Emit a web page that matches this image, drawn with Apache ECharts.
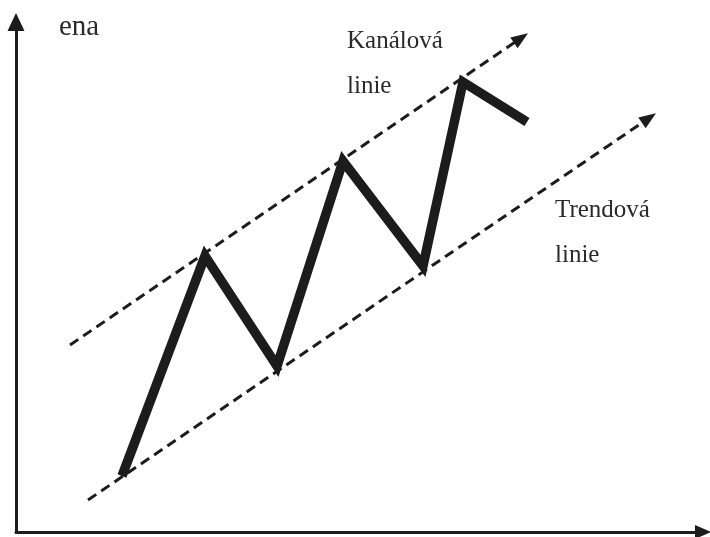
<!DOCTYPE html>
<html><head><meta charset="utf-8">
<script src="https://cdn.jsdelivr.net/npm/echarts@6/dist/echarts.min.js"></script>
<style>html,body{margin:0;padding:0;background:#fff}#c{width:710px;height:537px}</style>
</head><body><div id="c"></div>
<script>
// Price zigzag (x = time, y = price)
const zigX = [106, 189, 261, 327, 407, 447, 511];
const zigY = [56, 276, 166, 371, 266, 450, 410];
// Channel line (upper, dashed) start/end
const channelLine = [[54, 187], [505, 494]];
// Trend line (lower, dashed) start/end
const trendLine = [[72, 32], [633, 414]];
const labels = { yAxis: 'ena', channel: ['Kanálová', 'linie'], trend: ['Trendová', 'linie'] };

const chart = echarts.init(document.getElementById('c'));
const font = '"Liberation Serif", "Times New Roman", serif';
const ink = '#1c1c1c';
function dashed(line) {
  return {
    type: 'line', data: [], silent: true,
    markLine: {
      silent: true, animation: false,
      symbol: ['none', 'triangle'], symbolSize: [13, 17],
      label: { show: false },
      lineStyle: { color: ink, width: 3, type: [10, 6] },
      data: [[{ coord: line[0] }, { coord: line[1] }]]
    }
  };
}
chart.setOption({
  animation: false,
  grid: { left: 16, right: 7, top: 22, bottom: 5 },
  xAxis: {
    type: 'value', min: 0, max: 687,
    axisLine: { show: true, symbol: ['none', 'triangle'], symbolSize: [14, 16], lineStyle: { color: ink, width: 3 } },
    axisTick: { show: false }, axisLabel: { show: false }, splitLine: { show: false }
  },
  yAxis: {
    type: 'value', min: 0, max: 510,
    axisLine: { show: true, symbol: ['none', 'triangle'], symbolSize: [17, 18], lineStyle: { color: ink, width: 3 } },
    axisTick: { show: false }, axisLabel: { show: false }, splitLine: { show: false }
  },
  series: [
    dashed(channelLine),
    dashed(trendLine),
    {
      type: 'line', silent: true, symbol: 'none',
      data: zigX.map((x, i) => [x, zigY[i]]),
      lineStyle: { color: ink, width: 9.5, join: 'miter', cap: 'butt' }
    }
  ],
  graphic: [
    { type: 'text', left: 59, top: 13, style: { text: labels.yAxis, font: '29px ' + font, fill: '#2a2a2a' } },
    { type: 'text', left: 347, top: 29, style: { text: labels.channel[0], font: '25px ' + font, fill: '#2a2a2a' } },
    { type: 'text', left: 347, top: 74, style: { text: labels.channel[1], font: '25px ' + font, fill: '#2a2a2a' } },
    { type: 'text', left: 555, top: 198, style: { text: labels.trend[0], font: '25px ' + font, fill: '#2a2a2a' } },
    { type: 'text', left: 555, top: 243, style: { text: labels.trend[1], font: '25px ' + font, fill: '#2a2a2a' } }
  ]
});
</script></body></html>
